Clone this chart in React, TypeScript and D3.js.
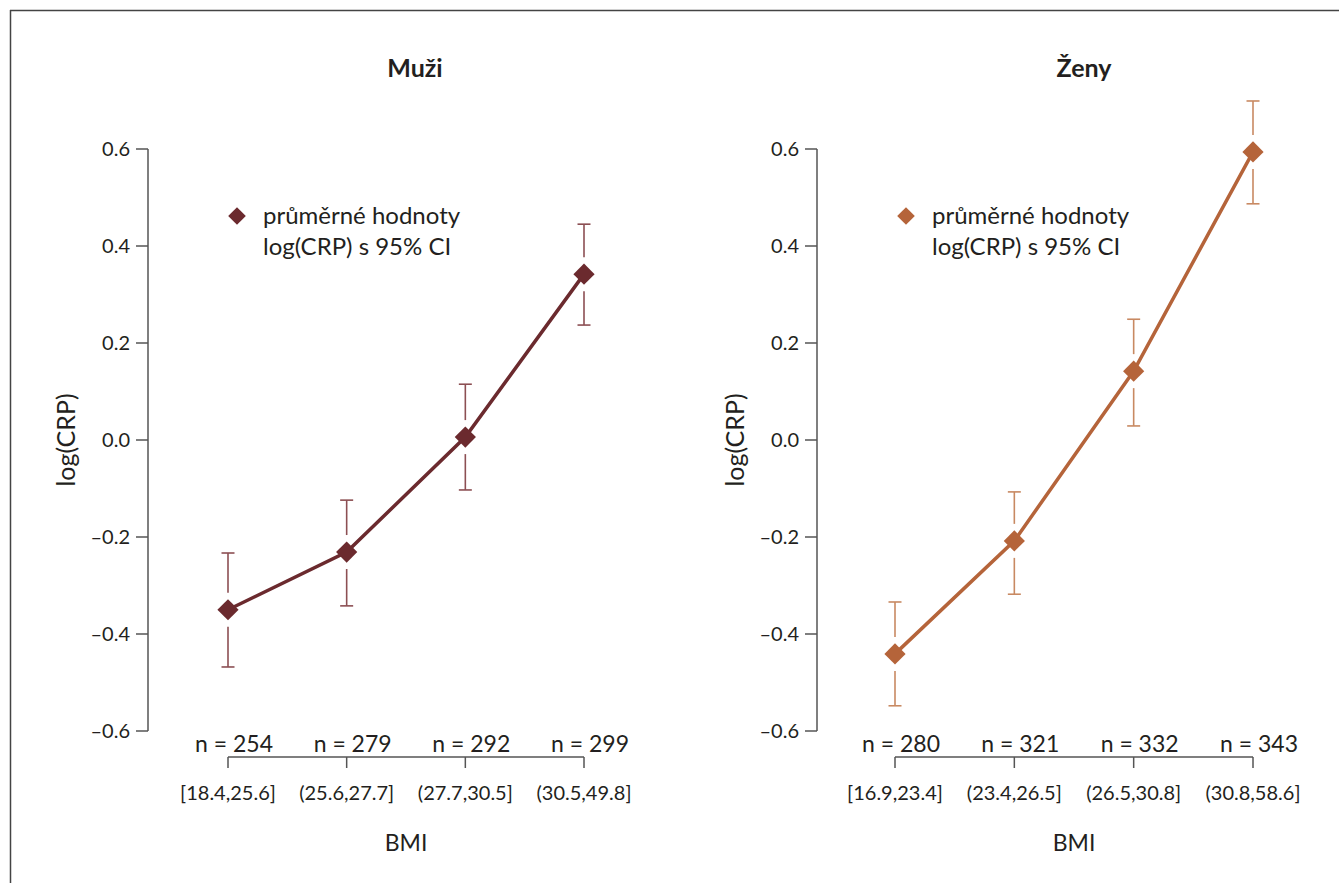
import React from "react";
import * as d3 from "d3";

const categoriesMen = ["[18.4,25.6]", "(25.6,27.7]", "(27.7,30.5]", "(30.5,49.8]"];
const countsMen = [254, 279, 292, 299];
const meanMen = [-0.35, -0.231, 0.006, 0.342];
const lowerMen = [-0.468, -0.342, -0.103, 0.237];
const upperMen = [-0.233, -0.124, 0.115, 0.445];

const categoriesWomen = ["[16.9,23.4]", "(23.4,26.5]", "(26.5,30.8]", "(30.8,58.6]"];
const countsWomen = [280, 321, 332, 343];
const meanWomen = [-0.441, -0.208, 0.142, 0.594];
const lowerWomen = [-0.548, -0.318, 0.029, 0.487];
const upperWomen = [-0.334, -0.107, 0.249, 0.699];

const yTicks = [-0.6, -0.4, -0.2, 0.0, 0.2, 0.4, 0.6];
const legendLines = ["průměrné hodnoty", "log(CRP) s 95% CI"];

const FONT = "Lato, 'Open Sans', sans-serif";
const TEXT = "#231f20";
const AXIS = "#555";

type PanelProps = {
  title: string;
  categories: string[];
  counts: number[];
  mean: number[];
  lower: number[];
  upper: number[];
  axisX: number;
  firstX: number;
  lastX: number;
  color: string;
  barColor: string;
};

function fmt(v: number) {
  const s = Math.abs(v).toFixed(1);
  return v < 0 ? "\u2013" + s : s;
}

function Panel(p: PanelProps) {
  const y = d3.scaleLinear().domain([-0.6, 0.6]).range([731, 149]);
  const x = d3
    .scalePoint<string>()
    .domain(p.categories)
    .range([p.firstX, p.lastX]);
  const pts = p.categories.map((c, i) => [x(c)!, y(p.mean[i])] as [number, number]);
  const line = d3.line()(pts) || "";
  const diamond = d3.symbol().type(d3.symbolSquare).size(15 * 15)() || "";
  const bracketY = 757;
  const mid = (p.firstX + p.lastX) / 2;
  const gap = 17;
  const cap = 6.5;
  return (
    <g>
      <text x={p.axisX + 267} y={77} textAnchor="middle" fontFamily={FONT} fontWeight="bold" fontSize={25} fill={TEXT}>
        {p.title}
      </text>
      {/* y axis */}
      <line x1={p.axisX} x2={p.axisX} y1={y(0.6)} y2={y(-0.6)} stroke={AXIS} strokeWidth={1.5} />
      {yTicks.map((t) => (
        <g key={t}>
          <line x1={p.axisX - 12} x2={p.axisX} y1={y(t)} y2={y(t)} stroke={AXIS} strokeWidth={1.5} />
          <text x={p.axisX - 18} y={y(t)} dy="0.35em" textAnchor="end" fontFamily={FONT} fontSize={20} fill={TEXT}>
            {fmt(t)}
          </text>
        </g>
      ))}
      <text
        transform={`translate(${p.axisX - 82},${y(0)}) rotate(-90)`}
        textAnchor="middle"
        dy="0.35em"
        fontFamily={FONT}
        fontSize={25}
        fill={TEXT}
      >
        log(CRP)
      </text>
      {/* x bracket */}
      <line x1={p.firstX} x2={p.lastX} y1={bracketY} y2={bracketY} stroke={AXIS} strokeWidth={1.5} />
      {p.categories.map((c, i) => (
        <g key={c}>
          <line x1={x(c)!} x2={x(c)!} y1={bracketY} y2={bracketY + 11} stroke={AXIS} strokeWidth={1.5} />
          <text x={x(c)! + 6} y={752} textAnchor="middle" fontFamily={FONT} fontSize={23} fill={TEXT}>
            {`n = ${p.counts[i]}`}
          </text>
          <text x={x(c)!} y={800} textAnchor="middle" fontFamily={FONT} fontSize={20} fill={TEXT}>
            {c}
          </text>
        </g>
      ))}
      <text x={mid} y={851} textAnchor="middle" fontFamily={FONT} fontSize={23} fill={TEXT}>
        BMI
      </text>
      {/* error bars */}
      {p.categories.map((c, i) => {
        const cx = x(c)!;
        const cy = y(p.mean[i]);
        const yu = y(p.upper[i]);
        const yl = y(p.lower[i]);
        return (
          <g key={"e" + c} stroke={p.barColor} strokeWidth={1.6}>
            <line x1={cx} x2={cx} y1={yu} y2={cy - gap} />
            <line x1={cx} x2={cx} y1={cy + gap} y2={yl} />
            <line x1={cx - cap} x2={cx + cap} y1={yu} y2={yu} />
            <line x1={cx - cap} x2={cx + cap} y1={yl} y2={yl} />
          </g>
        );
      })}
      <path d={line} fill="none" stroke={p.color} strokeWidth={3.5} />
      {pts.map(([px, py], i) => (
        <path key={"m" + i} d={diamond} transform={`translate(${px},${py}) rotate(45)`} fill={p.color} />
      ))}
      {/* legend */}
      <path d={d3.symbol().type(d3.symbolSquare).size(12.5 * 12.5)() || ""} transform={`translate(${p.axisX + 89},${216}) rotate(45)`} fill={p.color} />
      {legendLines.map((l, i) => (
        <text key={l} x={p.axisX + 115} y={224 + i * 31} fontFamily={FONT} fontSize={24} fill={TEXT}>
          {l}
        </text>
      ))}
    </g>
  );
}

export default function App() {
  return (
    <svg width={1339} height={883} style={{ position: "absolute", left: 0, top: 0, background: "#fff" }}>
      <rect x={0} y={0} width={1339} height={883} fill="#fff" />
      <line x1={10} x2={1339} y1={10.5} y2={10.5} stroke="#444" strokeWidth={1.5} />
      <line x1={10.5} x2={10.5} y1={10} y2={883} stroke="#444" strokeWidth={1.5} />
      <Panel
        title="Muži"
        categories={categoriesMen}
        counts={countsMen}
        mean={meanMen}
        lower={lowerMen}
        upper={upperMen}
        axisX={148}
        firstX={228}
        lastX={584}
        color="#6b2a2e"
        barColor="#8c4f53"
      />
      <Panel
        title="Ženy"
        categories={categoriesWomen}
        counts={countsWomen}
        mean={meanWomen}
        lower={lowerWomen}
        upper={upperWomen}
        axisX={817}
        firstX={895}
        lastX={1253}
        color="#b5643a"
        barColor="#c88962"
      />
    </svg>
  );
}
